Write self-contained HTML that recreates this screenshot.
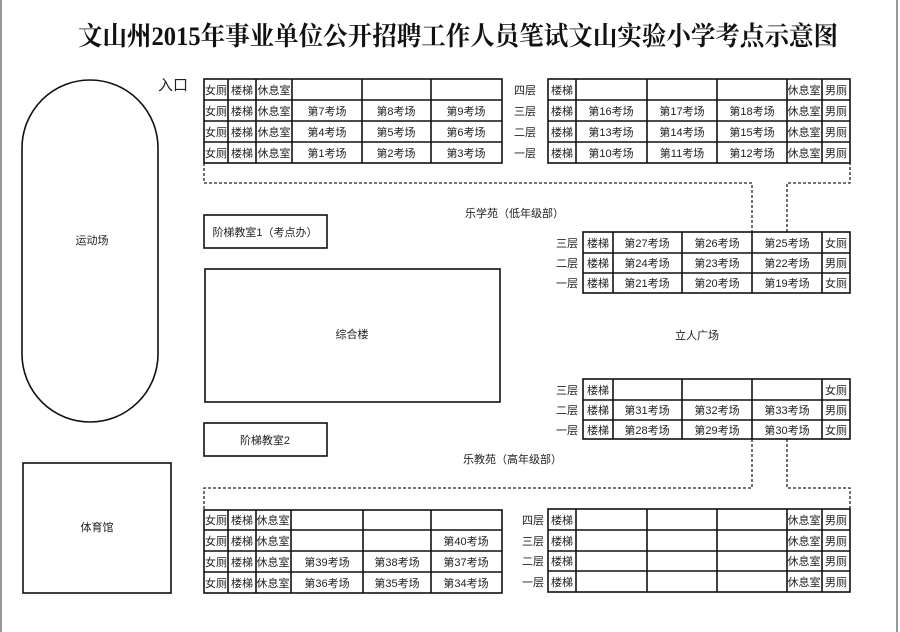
<!DOCTYPE html>
<html><head><meta charset="utf-8"><style>
html,body{margin:0;padding:0;background:#fff;}
svg{display:block;}
text{font-family:"Liberation Sans","Noto Sans CJK SC",sans-serif;font-size:11px;fill:#222;}
.t{font-family:"Liberation Serif","Noto Serif CJK SC",serif;font-size:26px;font-weight:bold;fill:#111;}
.g line,.g rect{stroke:#111;stroke-width:1.6;fill:none;}
.d{stroke:#222;stroke-width:1.3;stroke-dasharray:3,2;fill:none;}
</style></head><body>
<svg width="900" height="632" viewBox="0 0 900 632" xmlns="http://www.w3.org/2000/svg">
<rect x="0" y="0" width="900" height="632" fill="#fff"/>
<line x1="1" y1="0" x2="1" y2="632" stroke="#777" stroke-width="1.5"/>
<line x1="897" y1="0" x2="897" y2="632" stroke="#777" stroke-width="1.5"/>
<text class="t" x="78" y="45" textLength="760" lengthAdjust="spacingAndGlyphs">文山州2015年事业单位公开招聘工作人员笔试文山实验小学考点示意图</text>
<text x="158" y="90" style="font-size:15px">入口</text>
<rect x="22" y="80" width="136" height="342" rx="68" ry="68" fill="none" stroke="#111" stroke-width="1.6"/>
<text x="92" y="244" text-anchor="middle">运动场</text>
<g class="g">
<rect x="23" y="463" width="148" height="130"/>
<rect x="204" y="215" width="123" height="33"/>
<rect x="205" y="269" width="295" height="133"/>
<rect x="204" y="423" width="123" height="33"/>
</g>
<text x="97" y="531" text-anchor="middle">体育馆</text>
<text x="265" y="236" text-anchor="middle">阶梯教室1（考点办）</text>
<text x="352" y="338" text-anchor="middle">综合楼</text>
<text x="265" y="444" text-anchor="middle">阶梯教室2</text>
<text x="465" y="217">乐学苑（低年级部）</text>
<text x="463" y="463">乐教苑（高年级部）</text>
<text x="697" y="339" text-anchor="middle">立人广场</text>

<!-- dashed connectors -->
<path class="d" d="M204 163 V183 H752 V232"/>
<path class="d" d="M787 232 V183 H850 V163"/>
<path class="d" d="M752 439 V488 H204 V510"/>
<path class="d" d="M787 439 V488 H850 V509"/>

<!-- top-left table -->
<g class="g">
<rect x="204" y="79" width="298" height="84"/>
<line x1="204" y1="100" x2="502" y2="100"/><line x1="204" y1="121" x2="502" y2="121"/><line x1="204" y1="142" x2="502" y2="142"/>
<line x1="228" y1="79" x2="228" y2="163"/><line x1="256" y1="79" x2="256" y2="163"/><line x1="292" y1="79" x2="292" y2="163"/><line x1="362" y1="79" x2="362" y2="163"/><line x1="431" y1="79" x2="431" y2="163"/>
</g>
<g text-anchor="middle">
<text x="216" y="94">女厕</text><text x="242" y="94">楼梯</text><text x="274" y="94">休息室</text>
<text x="216" y="115">女厕</text><text x="242" y="115">楼梯</text><text x="274" y="115">休息室</text><text x="327" y="115">第7考场</text><text x="396" y="115">第8考场</text><text x="466" y="115">第9考场</text>
<text x="216" y="136">女厕</text><text x="242" y="136">楼梯</text><text x="274" y="136">休息室</text><text x="327" y="136">第4考场</text><text x="396" y="136">第5考场</text><text x="466" y="136">第6考场</text>
<text x="216" y="157">女厕</text><text x="242" y="157">楼梯</text><text x="274" y="157">休息室</text><text x="327" y="157">第1考场</text><text x="396" y="157">第2考场</text><text x="466" y="157">第3考场</text>
</g>

<!-- top-right table -->
<g class="g">
<rect x="548" y="79" width="302" height="84"/>
<line x1="548" y1="100" x2="850" y2="100"/><line x1="548" y1="121" x2="850" y2="121"/><line x1="548" y1="142" x2="850" y2="142"/>
<line x1="576" y1="79" x2="576" y2="163"/><line x1="647" y1="79" x2="647" y2="163"/><line x1="717" y1="79" x2="717" y2="163"/><line x1="787" y1="79" x2="787" y2="163"/><line x1="822" y1="79" x2="822" y2="163"/>
</g>
<g text-anchor="middle">
<text x="525" y="94">四层</text><text x="525" y="115">三层</text><text x="525" y="136">二层</text><text x="525" y="157">一层</text>
<text x="562" y="94">楼梯</text><text x="804" y="94">休息室</text><text x="836" y="94">男厕</text>
<text x="562" y="115">楼梯</text><text x="611" y="115">第16考场</text><text x="682" y="115">第17考场</text><text x="752" y="115">第18考场</text><text x="804" y="115">休息室</text><text x="836" y="115">男厕</text>
<text x="562" y="136">楼梯</text><text x="611" y="136">第13考场</text><text x="682" y="136">第14考场</text><text x="752" y="136">第15考场</text><text x="804" y="136">休息室</text><text x="836" y="136">男厕</text>
<text x="562" y="157">楼梯</text><text x="611" y="157">第10考场</text><text x="682" y="157">第11考场</text><text x="752" y="157">第12考场</text><text x="804" y="157">休息室</text><text x="836" y="157">男厕</text>
</g>

<!-- middle-right table -->
<g class="g">
<rect x="583" y="232" width="267" height="61"/>
<line x1="583" y1="253" x2="850" y2="253"/><line x1="583" y1="273" x2="850" y2="273"/>
<line x1="613" y1="232" x2="613" y2="293"/><line x1="682" y1="232" x2="682" y2="293"/><line x1="752" y1="232" x2="752" y2="293"/><line x1="822" y1="232" x2="822" y2="293"/>
</g>
<g text-anchor="middle">
<text x="567" y="247">三层</text><text x="567" y="267">二层</text><text x="567" y="287">一层</text>
<text x="598" y="247">楼梯</text><text x="647" y="247">第27考场</text><text x="717" y="247">第26考场</text><text x="787" y="247">第25考场</text><text x="836" y="247">女厕</text>
<text x="598" y="267">楼梯</text><text x="647" y="267">第24考场</text><text x="717" y="267">第23考场</text><text x="787" y="267">第22考场</text><text x="836" y="267">男厕</text>
<text x="598" y="287">楼梯</text><text x="647" y="287">第21考场</text><text x="717" y="287">第20考场</text><text x="787" y="287">第19考场</text><text x="836" y="287">女厕</text>
</g>

<!-- lower-right table -->
<g class="g">
<rect x="583" y="379" width="267" height="60"/>
<line x1="583" y1="400" x2="850" y2="400"/><line x1="583" y1="420" x2="850" y2="420"/>
<line x1="613" y1="379" x2="613" y2="439"/><line x1="682" y1="379" x2="682" y2="439"/><line x1="752" y1="379" x2="752" y2="439"/><line x1="822" y1="379" x2="822" y2="439"/>
</g>
<g text-anchor="middle">
<text x="567" y="394">三层</text><text x="567" y="414">二层</text><text x="567" y="434">一层</text>
<text x="598" y="394">楼梯</text><text x="836" y="394">女厕</text>
<text x="598" y="414">楼梯</text><text x="647" y="414">第31考场</text><text x="717" y="414">第32考场</text><text x="787" y="414">第33考场</text><text x="836" y="414">男厕</text>
<text x="598" y="434">楼梯</text><text x="647" y="434">第28考场</text><text x="717" y="434">第29考场</text><text x="787" y="434">第30考场</text><text x="836" y="434">女厕</text>
</g>

<!-- bottom-left table -->
<g class="g">
<rect x="204" y="510" width="298" height="83"/>
<line x1="204" y1="530" x2="502" y2="530"/><line x1="204" y1="551" x2="502" y2="551"/><line x1="204" y1="572" x2="502" y2="572"/>
<line x1="228" y1="510" x2="228" y2="593"/><line x1="256" y1="510" x2="256" y2="593"/><line x1="291" y1="510" x2="291" y2="593"/><line x1="363" y1="510" x2="363" y2="593"/><line x1="431" y1="510" x2="431" y2="593"/>
</g>
<g text-anchor="middle">
<text x="216" y="524">女厕</text><text x="242" y="524">楼梯</text><text x="273" y="524">休息室</text>
<text x="216" y="545">女厕</text><text x="242" y="545">楼梯</text><text x="273" y="545">休息室</text><text x="466" y="545">第40考场</text>
<text x="216" y="566">女厕</text><text x="242" y="566">楼梯</text><text x="273" y="566">休息室</text><text x="327" y="566">第39考场</text><text x="397" y="566">第38考场</text><text x="466" y="566">第37考场</text>
<text x="216" y="587">女厕</text><text x="242" y="587">楼梯</text><text x="273" y="587">休息室</text><text x="327" y="587">第36考场</text><text x="397" y="587">第35考场</text><text x="466" y="587">第34考场</text>
</g>

<!-- bottom-right table -->
<g class="g">
<rect x="548" y="509" width="302" height="83"/>
<line x1="548" y1="530" x2="850" y2="530"/><line x1="548" y1="551" x2="850" y2="551"/><line x1="548" y1="571" x2="850" y2="571"/>
<line x1="576" y1="509" x2="576" y2="592"/><line x1="647" y1="509" x2="647" y2="592"/><line x1="717" y1="509" x2="717" y2="592"/><line x1="787" y1="509" x2="787" y2="592"/><line x1="822" y1="509" x2="822" y2="592"/>
</g>
<g text-anchor="middle">
<text x="533" y="524">四层</text><text x="533" y="545">三层</text><text x="533" y="565">二层</text><text x="533" y="586">一层</text>
<text x="562" y="524">楼梯</text><text x="804" y="524">休息室</text><text x="836" y="524">男厕</text>
<text x="562" y="545">楼梯</text><text x="804" y="545">休息室</text><text x="836" y="545">男厕</text>
<text x="562" y="565">楼梯</text><text x="804" y="565">休息室</text><text x="836" y="565">男厕</text>
<text x="562" y="586">楼梯</text><text x="804" y="586">休息室</text><text x="836" y="586">男厕</text>
</g>
</svg>
</body></html>
